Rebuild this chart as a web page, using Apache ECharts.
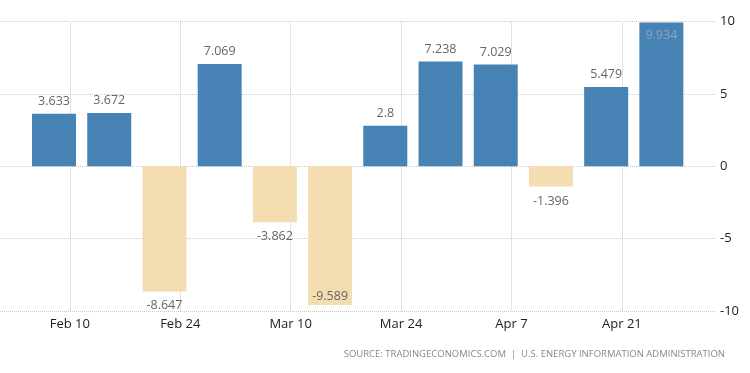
<!DOCTYPE html>
<html><head><meta charset="utf-8">
<script src="https://cdn.jsdelivr.net/npm/echarts@6/dist/echarts.min.js"></script>
<style>html,body{margin:0;padding:0;background:#fff}#c{width:750px;height:373px}</style>
</head><body><div id="c"></div>
<script>
const weekDates = ['2019-02-08','2019-02-15','2019-02-22','2019-03-01','2019-03-08','2019-03-15','2019-03-22','2019-03-29','2019-04-05','2019-04-12','2019-04-19','2019-04-26'];
const values = [3.633, 3.672, -8.647, 7.069, -3.862, -9.589, 2.8, 7.238, 7.029, -1.396, 5.479, 9.934];
const tickDates = ['2019-02-10','2019-02-24','2019-03-10','2019-03-24','2019-04-07','2019-04-21'];
const tickLabels = ['Feb 10','Feb 24','Mar 10','Mar 24','Apr 7','Apr 21'];
const yTicks = [-10, -5, 0, 5, 10];
const sourceText = 'SOURCE: TRADINGECONOMICS.COM  |  U.S. ENERGY INFORMATION ADMINISTRATION';

const DAY = 86400000;
const t0 = Date.parse(weekDates[0]);
const toDay = d => Math.round((Date.parse(d) - t0) / DAY);
const barDays = weekDates.map(toDay);
const tickDays = tickDates.map(toDay);

const POS = '#4682b4', NEG = '#f3ddb1';
const data = values.map((v, i) => {
  let label;
  if (v > 9) label = { position: 'insideTop', distance: 6, color: '#8aa5c2' };
  else if (v < -9) label = { position: 'insideBottom', distance: 2 };
  else if (v >= 0) label = { position: 'top', distance: 6 };
  else label = { position: 'bottom', distance: 8 };
  return { value: [barDays[i], v], label, itemStyle: { color: v >= 0 ? POS : NEG } };
});

const chart = echarts.init(document.getElementById('c'), null, { renderer: 'canvas' });
chart.setOption({
  animation: false,
  backgroundColor: '#fff',
  textStyle: { fontFamily: 'Open Sans' },
  grid: { left: 0, right: 35, top: 21.5, bottom: 62, containLabel: false },
  xAxis: {
    type: 'value', min: -6.85, max: 83.8, position: 'bottom',
    axisLine: { show: false },
    axisTick: { show: false, customValues: tickDays },
    axisLabel: {
      customValues: tickDays, margin: 7, color: '#222', fontSize: 13, fontFamily: 'Open Sans',
      formatter: v => tickLabels[tickDays.indexOf(v)] || ''
    },
    splitLine: { show: true, lineStyle: { type: 'dotted', color: '#c8c8c8', width: 1 } }
  },
  yAxis: {
    type: 'value', position: 'right', min: yTicks[0], max: yTicks[yTicks.length - 1], interval: 5,
    axisLine: { show: false }, axisTick: { show: false },
    axisLabel: { margin: 5, color: '#222', fontSize: 13, fontFamily: 'Open Sans' },
    splitLine: { show: true, lineStyle: { type: 'dotted', color: '#c8c8c8', width: 1 } }
  },
  series: [{
    type: 'bar', barWidth: 44, data,
    label: { show: true, color: '#666', fontSize: 12.5, fontFamily: 'Open Sans', formatter: p => String(p.value[1]) }
  }],
  graphic: [{
    type: 'text', right: 25, top: 349,
    style: { text: sourceText, fill: '#888', font: '9.5px "Open Sans"' }
  }]
});
</script></body></html>
